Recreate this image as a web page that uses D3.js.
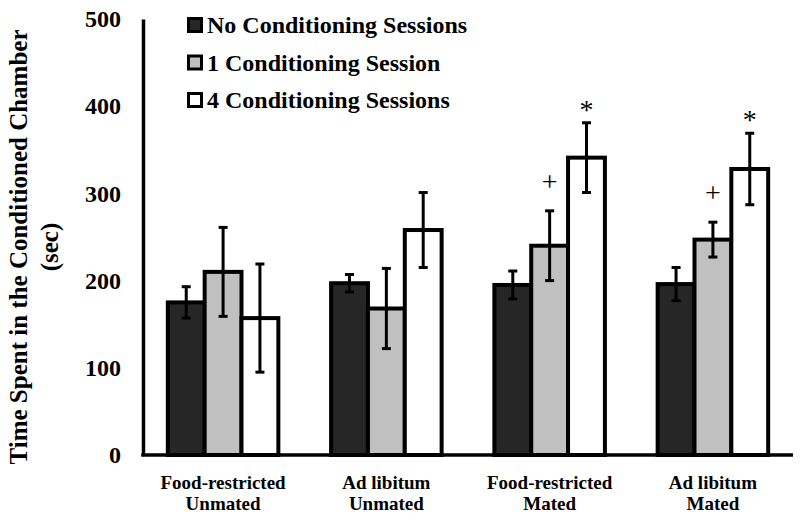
<!DOCTYPE html>
<html><head><meta charset="utf-8">
<script src="https://cdn.jsdelivr.net/npm/d3@7"></script>
<style>body{margin:0;background:#fff}svg{display:block}svg text{font-family:"Liberation Serif","Times New Roman",serif}</style>
</head><body><svg id="c" width="800" height="520"></svg>
<script>
const categories = [["Food-restricted","Unmated"],["Ad libitum","Unmated"],["Food-restricted","Mated"],["Ad libitum","Mated"]];
const seriesNames = ["No Conditioning Sessions","1 Conditioning Session","4 Conditioning Sessions"];
const seriesColors = ["#262626","#c0c0c0","#ffffff"];
const means0 = [175,197,195,196];
const means1 = [210,168,240,247];
const means4 = [157,258,341,328];
const err0 = [18,10,16,19];
const err1 = [51,46,40,20];
const err4 = [62,43,40,41];
const marks1 = ["","","+","+"];
const marks4 = ["","","*","*"];
const yTicks = [0,100,200,300,400,500];

const FONT = '"Liberation Serif","Times New Roman",serif';
const means = [means0,means1,means4], errs=[err0,err1,err4], marks=[null,marks1,marks4];
const svg = d3.select("#c");
const x0 = d3.scaleBand().domain(d3.range(categories.length)).range([143,793]).paddingInner(0.323).paddingOuter(0.152);
const x1 = d3.scaleBand().domain(d3.range(3)).range([0,x0.bandwidth()]);
const y = d3.scaleLinear().domain([0,500]).range([455,19]);

// bars
for(let s=0;s<3;s++){
  const g = svg.append("g");
  g.selectAll("rect").data(means[s]).join("rect")
    .attr("x",(d,i)=>x0(i)+x1(s)).attr("y",d=>y(d))
    .attr("width",x1.bandwidth()).attr("height",d=>y(0)-y(d))
    .attr("fill",seriesColors[s]).attr("stroke","#000").attr("stroke-width",4);
}
// error bars and significance marks
for(let s=0;s<3;s++){
  const g = svg.append("g").attr("stroke","#000").attr("stroke-width",3);
  means[s].forEach((m,i)=>{
    const cx = x0(i)+x1(s)+x1.bandwidth()/2, e=errs[s][i];
    g.append("line").attr("x1",cx).attr("x2",cx).attr("y1",y(m+e)).attr("y2",y(m-e));
    g.append("line").attr("x1",cx-4.5).attr("x2",cx+4.5).attr("y1",y(m+e)).attr("y2",y(m+e));
    g.append("line").attr("x1",cx-4.5).attr("x2",cx+4.5).attr("y1",y(m-e)).attr("y2",y(m-e));
    if(marks[s] && marks[s][i]){
      const sym = marks[s][i];
      svg.append("text").attr("x",cx).attr("y",y(m+e)-(sym==="*"?4:20)).attr("text-anchor","middle")
        .attr("font-size",28).style("font-family",FONT).text(sym);
    }
  });
}
// axes
const yAxis = d3.axisLeft(y).tickValues(yTicks).tickSize(0).tickPadding(22);
const ya = svg.append("g").attr("transform","translate(143,0)").call(yAxis);
ya.select(".domain").attr("stroke","#000").attr("stroke-width",3.5);
ya.selectAll("text").attr("font-size",24).attr("font-weight","bold").style("font-family",FONT);
const xAxis = d3.axisBottom(x0).tickSize(0).tickFormat("");
const xa = svg.append("g").attr("transform","translate(0,455)").call(xAxis);
xa.select(".domain").attr("stroke","#000").attr("stroke-width",3.5).attr("d","M141.25,0H793");
categories.forEach((c,i)=>{
  const cx = x0(i)+x0.bandwidth()/2;
  const t = svg.append("text").attr("x",cx).attr("y",489).attr("text-anchor","middle")
    .attr("font-size",19).attr("font-weight","bold").style("font-family",FONT);
  t.append("tspan").attr("x",cx).text(c[0]);
  t.append("tspan").attr("x",cx).attr("dy",21).text(c[1]);
});
// y title
const yt = svg.append("text").attr("transform","translate(27,247) rotate(-90)").attr("text-anchor","middle")
  .attr("font-size",25).attr("font-weight","bold").style("font-family",FONT);
yt.append("tspan").attr("x",0).text("Time Spent in the Conditioned Chamber");
yt.append("tspan").attr("x",0).attr("dy",31).text("(sec)");
// legend
seriesNames.forEach((n,i)=>{
  const ly = 25 + i*37.5;
  svg.append("rect").attr("x",188.5).attr("y",ly-6.5).attr("width",13).attr("height",13)
    .attr("fill",seriesColors[i]).attr("stroke","#000").attr("stroke-width",3);
  svg.append("text").attr("x",207).attr("y",ly+8).attr("font-size",24).attr("font-weight","bold")
    .style("font-family",FONT).text(n);
});
</script></body></html>
